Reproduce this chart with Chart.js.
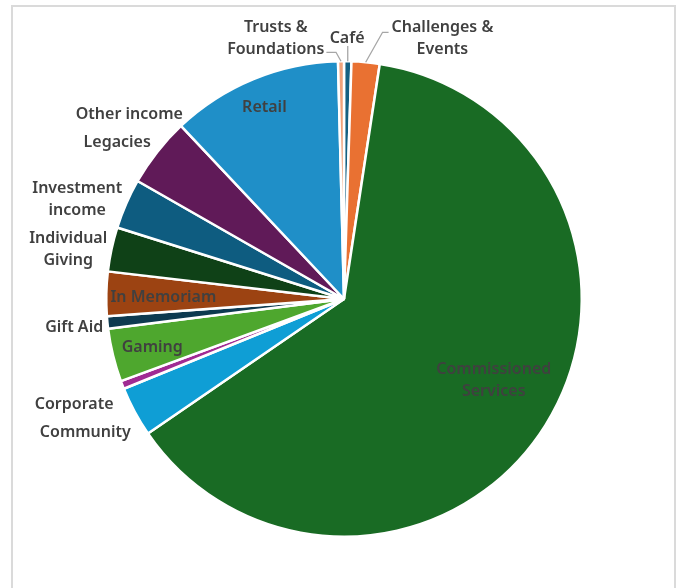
<!DOCTYPE html>
<html lang="en">
<head>
  <meta charset="UTF-8" />
  <title>Income sources</title>
  <style>
    html, body { margin: 0; padding: 0; background: #fff; overflow: hidden; }
    #wrap { position: relative; width: 683px; height: 588px; }
    #frame { position: absolute; left: 11px; top: 5px; width: 661px; height: 620px; border: 2px solid #dadada; }
    #chart { position: absolute; left: 0; top: 0; }
  </style>
</head>
<body>
<div id="wrap">
  <div id="frame"></div>
  <canvas id="chart" width="683" height="588"></canvas>
</div>

<script src="https://cdn.jsdelivr.net/npm/chart.js"></script>
<script>
// income sources, alphabetical (Excel draws them clockwise from 12 o'clock)
const categories = ['Café', 'Challenges & Events', 'Commissioned Services', 'Community', 'Corporate',
  'Gaming', 'Gift Aid', 'In Memoriam', 'Individual Giving', 'Investment income', 'Legacies',
  'Other income', 'Retail', 'Trusts & Foundations'];
const shares = [0.5, 1.9, 62.9, 3.4, 0.55, 3.6, 0.85, 3.0, 3.0, 3.4, 4.7, 0, 11.6, 0.4];
const colours = ['#156082', '#E97132', '#196B24', '#0F9ED5', '#A02B93', '#4EA72E', '#0D3A50',
  '#9C4312', '#0F4117', '#0E5C80', '#601A58', '#2F6A1C', '#1F8FC8', '#F0A27A'];

// label placement: inside = along the slice's mid angle (fraction of radius),
// outside = offset from centre in radius units, optional leader line
const labelPos = {
  'Café':                  { dx: 0.013, dy: -1.106 , lines: ['Café'], leader: 'down' },
  'Challenges & Events':   { dx: 0.414, dy: -1.105, lines: ['Challenges &', 'Events'], leader: 'left' },
  'Commissioned Services': { dx: 0.630, dy: 0.335, lines: ['Commissioned', 'Services'] },
  'Community':             { dx: -1.088, dy: 0.553, lines: ['Community'] },
  'Corporate':             { dx: -1.135, dy: 0.435, lines: ['Corporate'] },
  'Gaming':                { r: 0.83, lines: ['Gaming'] },
  'Gift Aid':              { dx: -1.135, dy: 0.110, lines: ['Gift Aid'] },
  'In Memoriam':           { r: 0.76, lines: ['In Memoriam'] },
  'Individual Giving':     { dx: -1.160, dy: -0.215, lines: ['Individual', 'Giving'] },
  'Investment income':     { dx: -1.122, dy: -0.426, lines: ['Investment', 'income'] },
  'Legacies':              { dx: -0.954, dy: -0.667, lines: ['Legacies'] },
  'Other income':          { dx: -0.903, dy: -0.785, lines: ['Other income'] },
  'Retail':                { r: 0.88, lines: ['Retail'] },
  'Trusts & Foundations':  { dx: -0.287, dy: -1.105, lines: ['Trusts &', 'Foundations'], leader: 'right' }
};

const FONT = '600 16px "Noto Sans", "Open Sans", sans-serif';
const LINE_H = 22;
const NUDGE = 2;

const labelPlugin = {
  id: 'sliceLabels',
  afterDatasetsDraw(chart) {
    const ctx = chart.ctx;
    const arcs = chart.getDatasetMeta(0).data;
    ctx.save();
    ctx.font = FONT;
    ctx.fillStyle = '#404040';
    ctx.textAlign = 'center';
    ctx.textBaseline = 'middle';
    arcs.forEach((arc, i) => {
      const p = labelPos[categories[i]];
      const cx = arc.x, cy = arc.y, R = arc.outerRadius;
      const mid = (arc.startAngle + arc.endAngle) / 2;
      let x, y;
      if (p.r !== undefined) {
        x = cx + Math.cos(mid) * R * p.r;
        y = cy + Math.sin(mid) * R * p.r;
      } else {
        x = cx + p.dx * R;
        y = cy + p.dy * R;
      }
      y += NUDGE;
      const top = y - (p.lines.length - 1) * LINE_H / 2;
      p.lines.forEach((t, k) => ctx.fillText(t, x, top + k * LINE_H));

      if (p.leader) {
        const ex = cx + Math.cos(mid) * R, ey = cy + Math.sin(mid) * R;
        ctx.strokeStyle = '#a6a6a6';
        ctx.lineWidth = 1.3;
        ctx.beginPath();
        if (p.leader === 'down') {
          ctx.moveTo(ex, y + 8);
          ctx.lineTo(ex, ey);
        } else if (p.leader === 'right') {
          const w = ctx.measureText(p.lines[p.lines.length - 1]).width;
          const ly = top + (p.lines.length - 1) * LINE_H + 3;
          ctx.moveTo(x + w / 2 + 2, ly);
          ctx.lineTo(ex - 5, ly);
          ctx.lineTo(ex, ey);
        } else {
          const w = ctx.measureText(p.lines[0]).width;
          const ly = top + 5;
          ctx.moveTo(x - w / 2 - 3, ly);
          ctx.lineTo(x - w / 2 - 9, ly);
          ctx.lineTo(ex, ey);
        }
        ctx.stroke();
      }
    });
    ctx.restore();
  }
};

new Chart(document.getElementById('chart'), {
  type: 'pie',
  data: {
    labels: categories,
    datasets: [{
      data: shares,
      backgroundColor: colours,
      borderColor: '#ffffff',
      borderWidth: 2.5
    }]
  },
  options: {
    responsive: false,
    animation: false,
    layout: { padding: { left: 105, right: 100, top: 60, bottom: 50 } },
    plugins: {
      legend: { display: false },
      tooltip: { enabled: false }
    }
  },
  plugins: [labelPlugin]
});
</script>
</body>
</html>
